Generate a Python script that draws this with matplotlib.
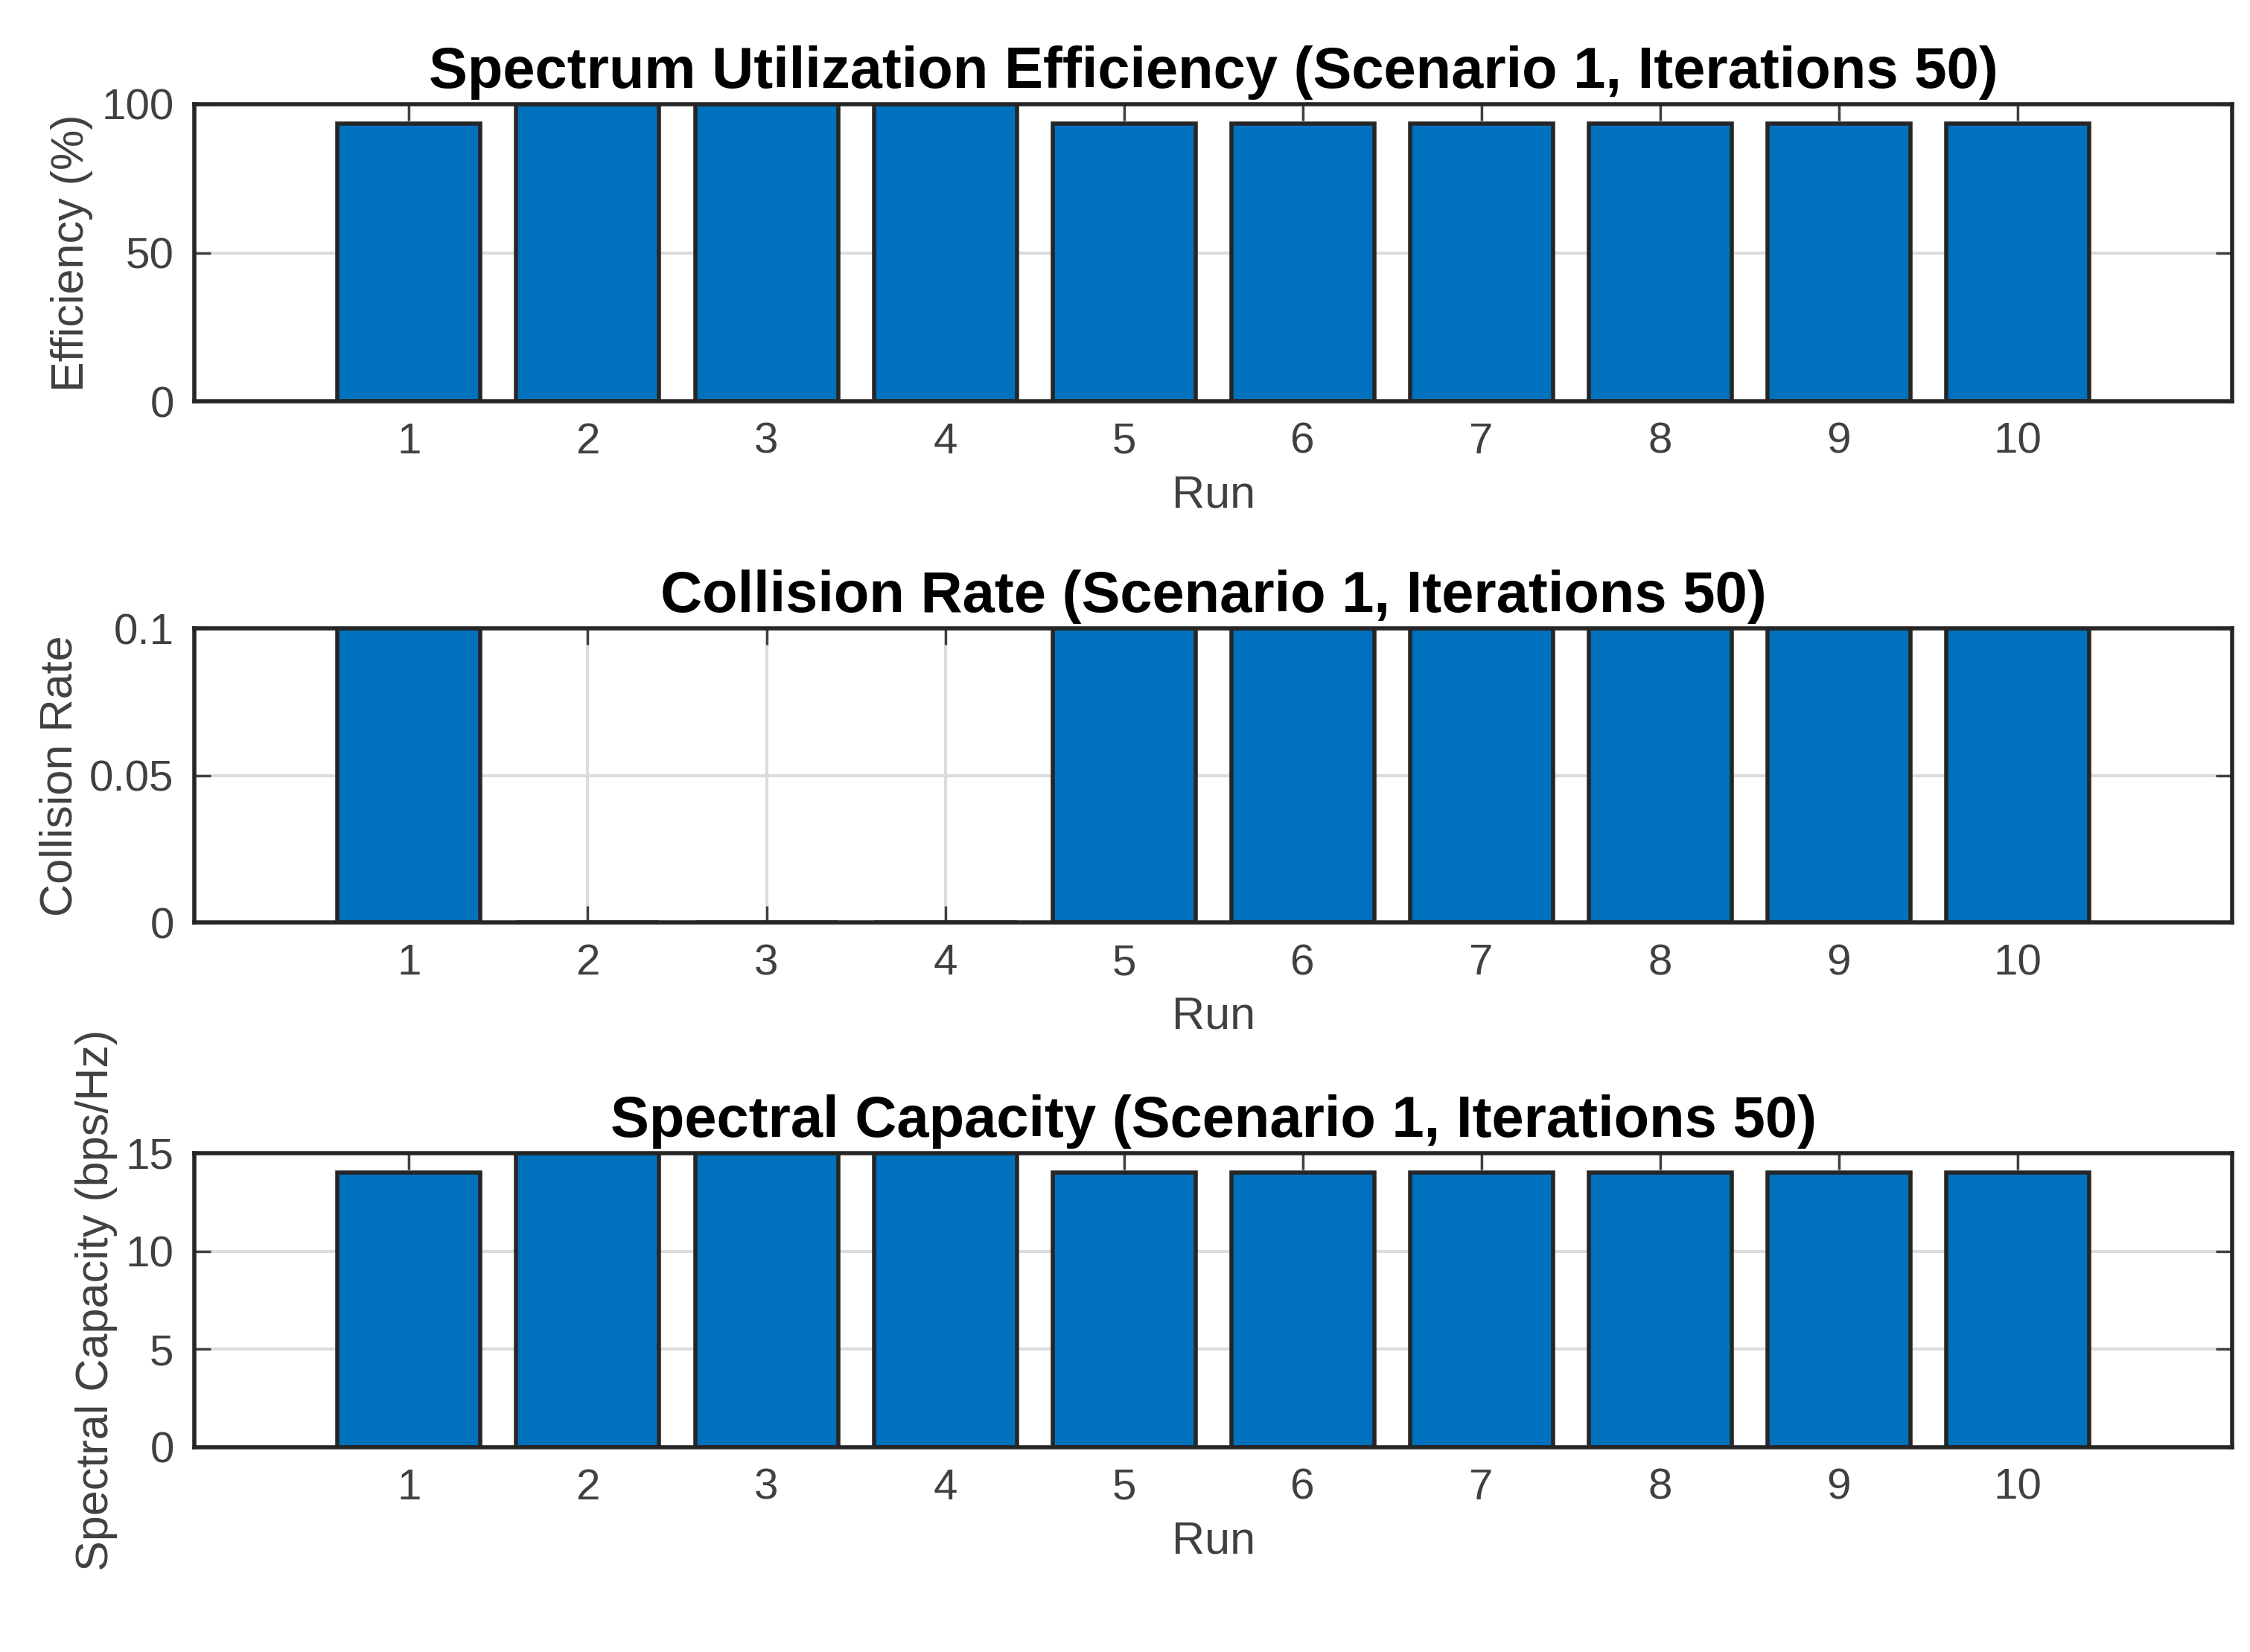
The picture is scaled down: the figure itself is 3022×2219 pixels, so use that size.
import numpy as np
import matplotlib.pyplot as plt

# --- Data ---
RUNS        = list(range(1, 11))
EFFICIENCY  = [93.33, 100, 100, 100, 93.33, 93.33, 93.33, 93.33, 93.33, 93.33]
COLLISION   = [0.1, 0, 0, 0, 0.1, 0.1, 0.1, 0.1, 0.1, 0.1]
CAPACITY    = [14, 15, 15, 15, 14, 14, 14, 14, 14, 14]

TITLES  = ["Spectrum Utilization Efficiency (Scenario 1, Iterations 50)",
           "Collision Rate (Scenario 1, Iterations 50)",
           "Spectral Capacity (Scenario 1, Iterations 50)"]
YLABELS = ["Efficiency (%)", "Collision Rate", "Spectral Capacity (bps/Hz)"]
YLIMS   = [(0, 100), (0, 0.1), (0, 15)]
YTICKS  = [[0, 50, 100], [0, 0.05, 0.1], [0, 5, 10, 15]]
YTICKLABELS = [["0", "50", "100"], ["0", "0.05", "0.1"], ["0", "5", "10", "15"]]

BLUE = "#0072BD"
EDGE = "#262626"

plt.rcParams["font.family"] = "Liberation Sans"

fig = plt.figure(figsize=(15.11, 11.095), dpi=200)
boxes = [(0.0865, 0.757, 0.9055, 0.180),
         (0.0865, 0.4415, 0.9055, 0.178),
         (0.0865, 0.124, 0.9055, 0.178)]

for i, vals in enumerate([EFFICIENCY, COLLISION, CAPACITY]):
    ax = fig.add_axes(boxes[i])
    ax.bar(RUNS, vals, width=0.8, color=BLUE, edgecolor=EDGE, linewidth=2, zorder=3)
    ax.set_xlim(-0.2, 11.2)
    ax.set_ylim(*YLIMS[i])
    ax.set_xticks(RUNS)
    ax.set_yticks(YTICKS[i])
    ax.set_yticklabels(YTICKLABELS[i])
    ax.set_title(TITLES[i], fontsize=28, fontweight="bold", pad=8)
    ax.set_ylabel(YLABELS[i], fontsize=22, color="#404040")
    ax.set_xlabel("Run", fontsize=22, color="#404040", labelpad=6)
    ax.tick_params(axis="both", labelsize=21, colors="#404040", direction="in",
                   length=8, width=1.2, top=True, right=True, pad=10)
    ax.grid(True, color="#dcdcdc", linewidth=1.5, zorder=0)
    ax.set_axisbelow(True)
    for s in ax.spines.values():
        s.set_linewidth(2)
        s.set_color(EDGE)
        s.set_zorder(5)

fig.savefig("out.png", dpi=200)
